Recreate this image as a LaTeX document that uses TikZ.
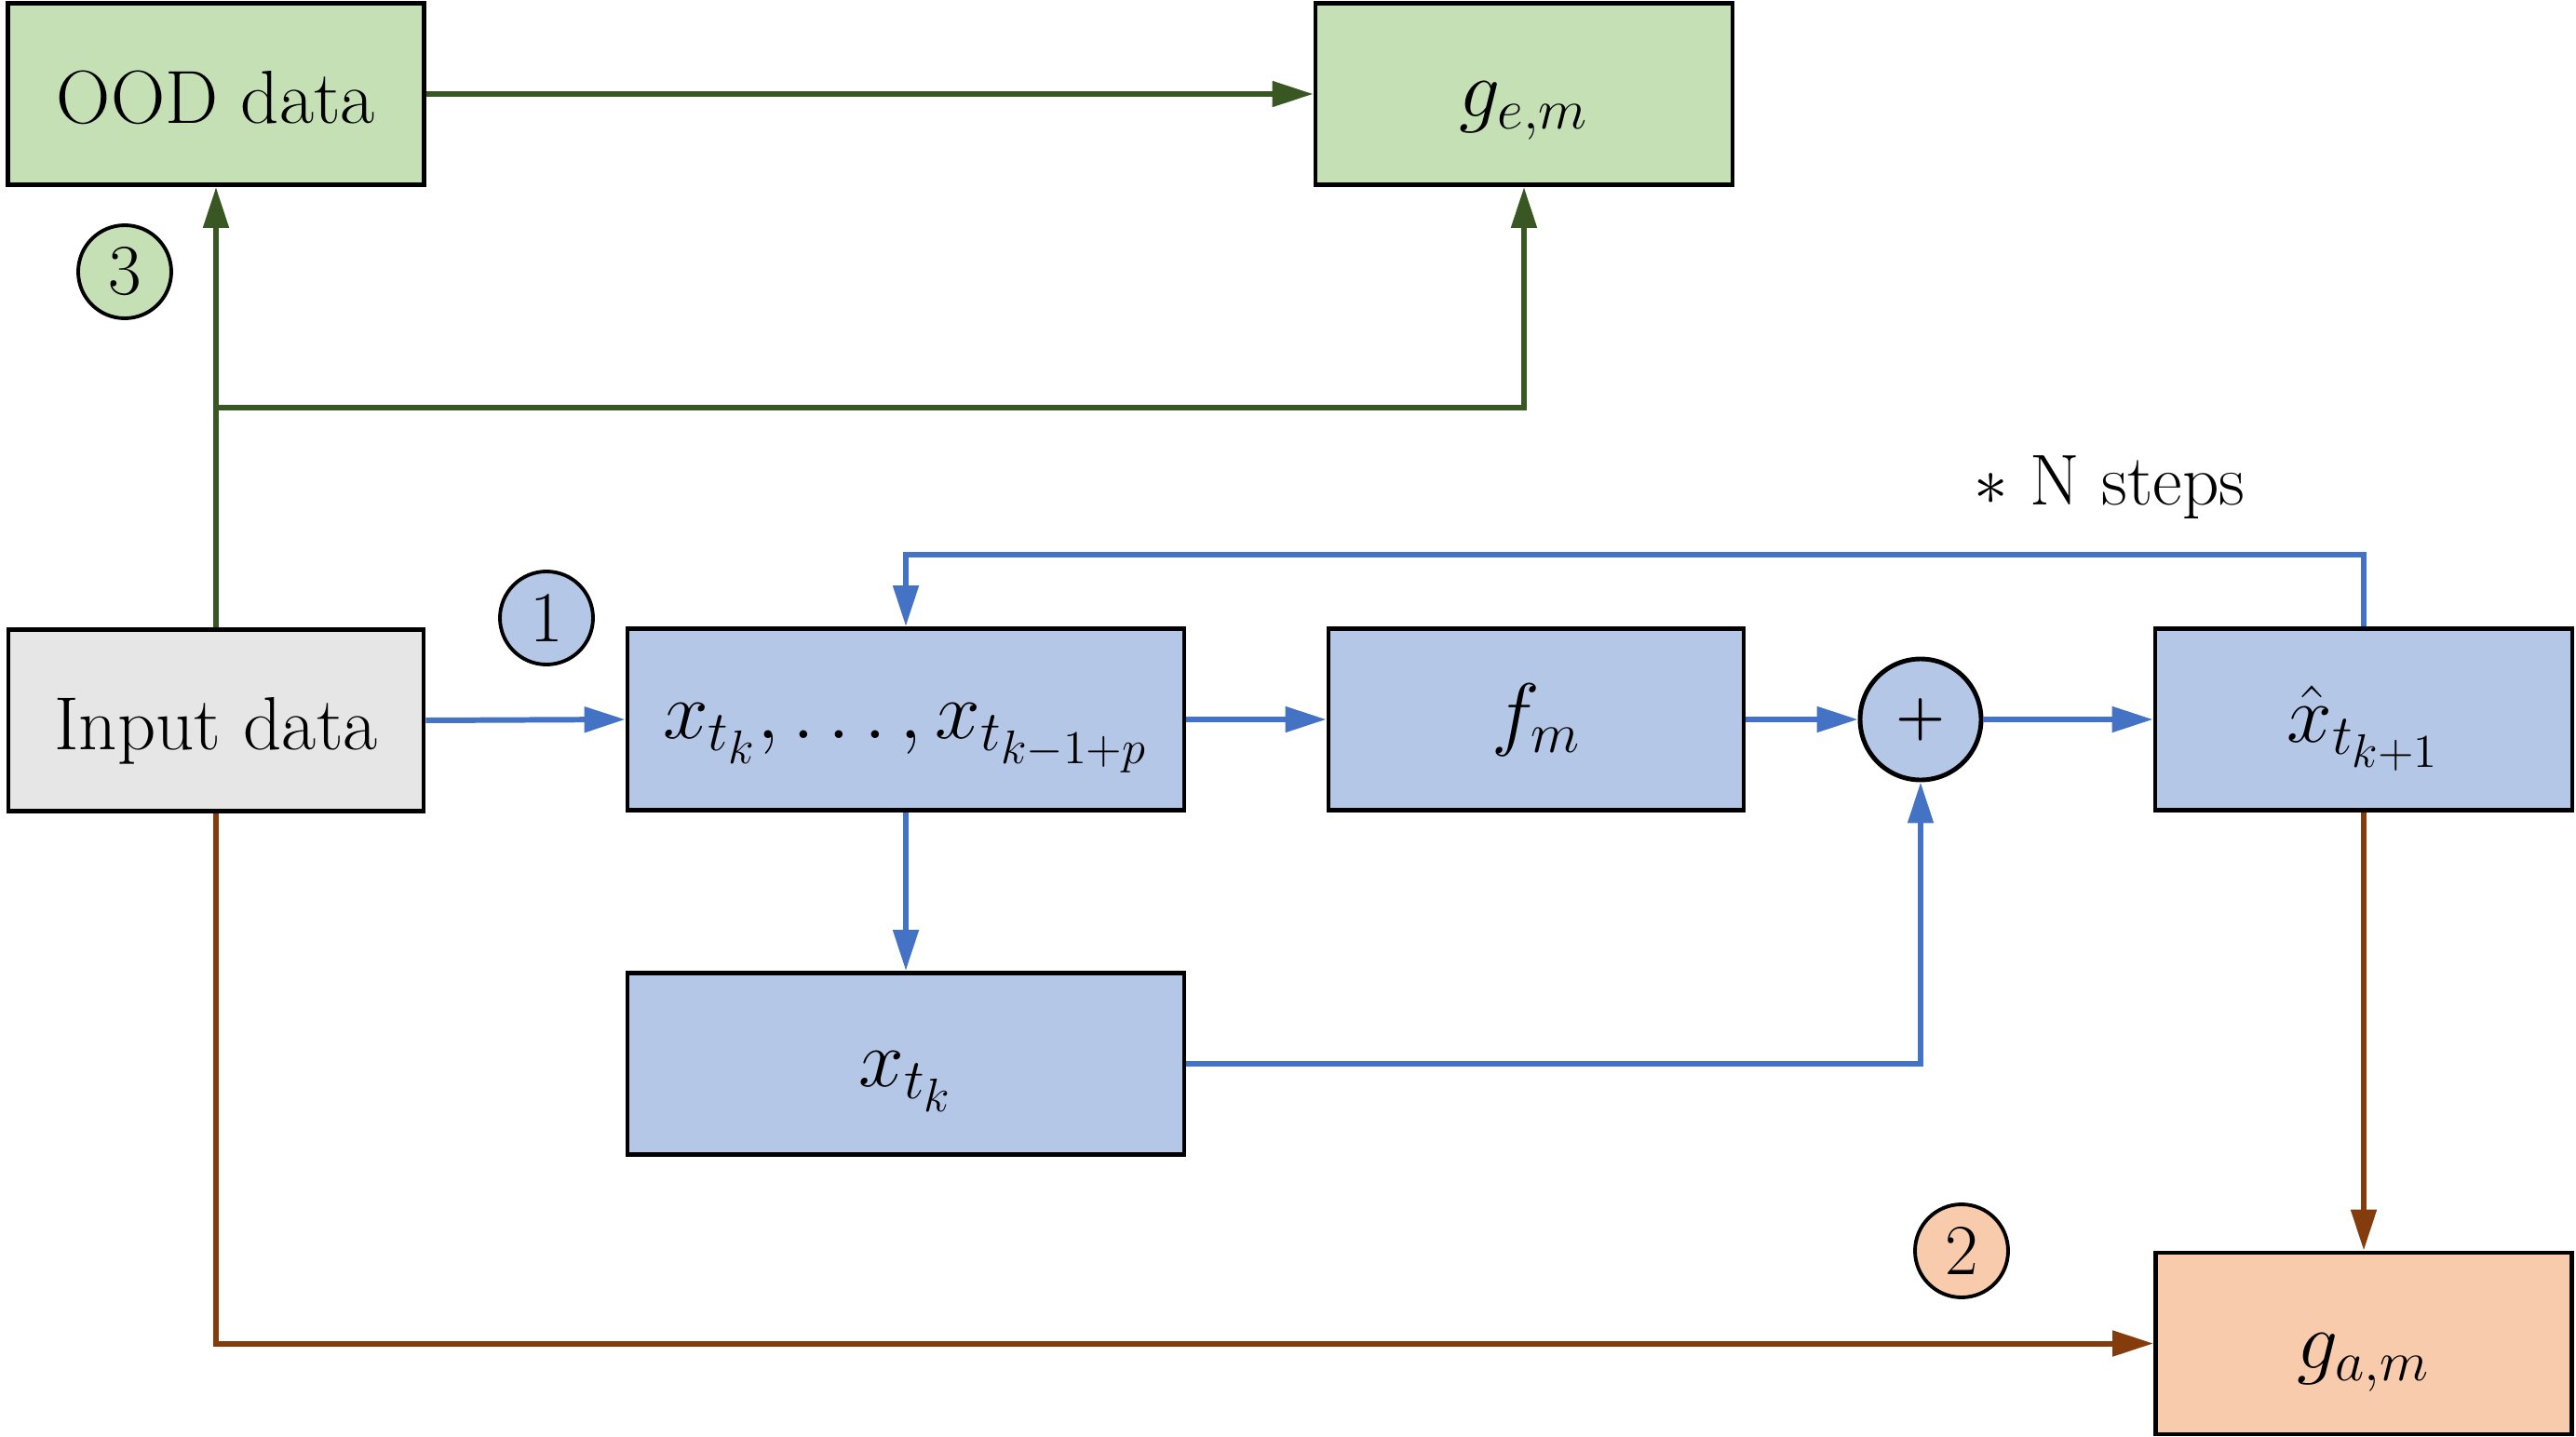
\documentclass[tikz,border=0pt]{standalone}
\usetikzlibrary{arrows.meta,calc}
\definecolor{gfill}{HTML}{C5E0B4}
\definecolor{gline}{HTML}{385723}
\definecolor{bfill}{HTML}{B4C7E7}
\definecolor{bline}{HTML}{4472C4}
\definecolor{ofill}{HTML}{F8CBAD}
\definecolor{oline}{HTML}{843C0C}
\definecolor{grayfill}{HTML}{E7E6E6}
\tikzset{
  box/.style={draw=black, line width=1.4pt, minimum height=1.95cm, inner sep=0pt,
    font=\fontsize{23}{27}\selectfont},
  mbox/.style={box, font=\fontsize{27}{30}\selectfont},
  bl/.style={text height=#1, text depth=0pt},
  numcirc/.style={circle, draw=black, line width=1.1pt, minimum size=1cm, inner sep=0pt,
    font=\fontsize{22}{26}\selectfont},
  conn/.style={line width=1.7pt, -{Triangle[length=12.5pt,width=7.6pt]}},
}
\begin{document}
\begin{tikzpicture}
\useasboundingbox (0,0) rectangle (27.67,-15.44);
% nodes
\node[box, bl=0.62cm, fill=gfill, minimum width=4.47cm] (ood) at (2.32,-1.01) {OOD data};
\node[mbox, bl=0.48cm, fill=gfill, minimum width=4.48cm] (gem) at (16.37,-1.01) {$g_{e,m}$};
\node[box, bl=0.62cm, fill=grayfill, minimum width=4.46cm] (inp) at (2.32,-7.74) {Input data};
\node[mbox, bl=0.40cm, fill=bfill, minimum width=5.98cm] (xtks) at (9.73,-7.73) {$x_{t_k},\ldots,x_{t_{k-1+p}}$};
\node[mbox, bl=0.44cm, fill=bfill, minimum width=4.46cm] (fm) at (16.50,-7.73) {$f_m$};
\node[circle, draw=black, line width=1.4pt, fill=bfill, minimum size=1.3cm, inner sep=0pt,
  font=\fontsize{19}{22}\selectfont\boldmath] (plus) at (20.63,-7.73) {$+$};
\node[mbox, bl=0.48cm, fill=bfill, minimum width=4.48cm] (xhat) at (25.39,-7.73) {$\hat{x}_{t_{k+1}}$};
\node[mbox, bl=0.48cm, fill=bfill, minimum width=5.98cm] (xtk) at (9.73,-11.43) {$x_{t_k}$};
\node[mbox, bl=0.54cm, fill=ofill, minimum width=4.47cm] (gam) at (25.39,-14.435) {$g_{a,m}$};
% numbered circles
\node[numcirc, fill=gfill] (c3) at (1.34,-2.92) {3};
\node[numcirc, fill=bfill] (c1) at (5.87,-6.64) {1};
\node[numcirc, fill=ofill] (c2) at (21.07,-13.44) {2};
% label
\node[font=\fontsize{22}{26}\selectfont, anchor=base] (nsteps) at (22.66,-5.42) {$\ast$ N steps};
% helper coordinates
\coordinate (br) at (2.32,-4.38);
\coordinate (fb) at (0,-5.96);
% green connectors
\draw[conn, gline] (ood.east) -- (gem.west);
\draw[conn, gline] (inp.north) -- (ood.south);
\draw[conn, gline] (br) -| (gem.south);
% blue connectors
\draw[conn, bline] (inp.east) -- (xtks.west);
\draw[conn, bline] (xtks.east) -- (fm.west);
\draw[conn, bline] (fm.east) -- (plus.west);
\draw[conn, bline] (plus.east) -- (xhat.west);
\draw[conn, bline] (xtks.south) -- (xtk.north);
\draw[conn, bline] (xtk.east) -| (plus.south);
\draw[conn, bline] (xhat.north) -- (xhat.north |- fb) -| (xtks.north);
% brown connectors
\draw[conn, oline] (xhat.south) -- (gam.north);
\draw[conn, oline] (inp.south) |- (gam.west);
\end{tikzpicture}
\end{document}
